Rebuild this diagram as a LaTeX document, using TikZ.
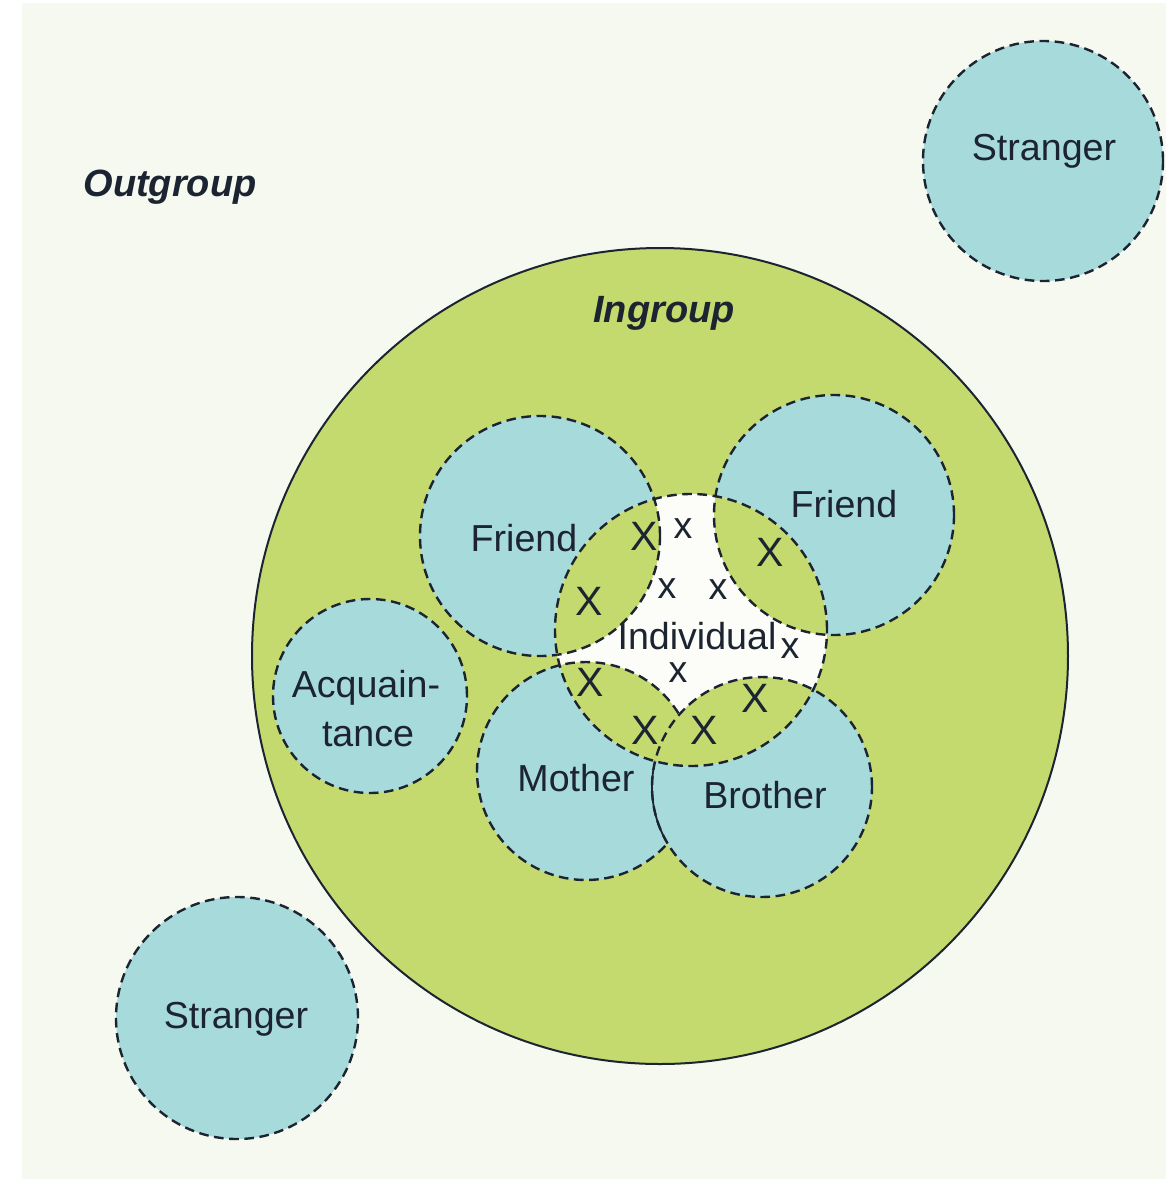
\documentclass[tikz,border=0pt]{standalone}
\usepackage{fontspec}
\setmainfont{Liberation Sans}
\definecolor{bgcream}{HTML}{F6F9F0}
\definecolor{ingreen}{HTML}{C4DA6E}
\definecolor{pblue}{HTML}{A7DADB}
\definecolor{indwhite}{HTML}{FCFDF8}
\definecolor{ink}{HTML}{1B2430}
\begin{document}
\begin{tikzpicture}[x=0.5pt,y=-0.5pt,
  dline/.style={draw=ink, line width=1.2pt, dash pattern=on 4.8pt off 2.8pt},
  person/.style={fill=pblue},
  lbl/.style={text=ink, font=\fontsize{18.8}{22}\selectfont, inner sep=0pt},
  grp/.style={text=ink, font=\fontsize{19}{22}\selectfont\bfseries\itshape, inner sep=0pt},
  bigx/.style={text=ink, font=\fontsize{20.5}{22}\selectfont, inner sep=0pt},
  smallx/.style={text=ink, font=\fontsize{18.8}{22}\selectfont, inner sep=0pt, text height=1ex, text depth=0pt}]
\useasboundingbox (0,0) rectangle (1166,1180);
\fill[white] (0,0) rectangle (1166,1180);
\fill[bgcream] (22,3) rectangle (1166,1179);

% centres
\coordinate (cIn) at (660,656);
\coordinate (cST) at (1043,161);
\coordinate (cSB) at (237,1018);
\coordinate (cAc) at (370,696);
\coordinate (cFL) at (540,536);
\coordinate (cFR) at (834,515);
\coordinate (cMo) at (586,771);
\coordinate (cBr) at (762,787);
\coordinate (cId) at (691,630);

% ingroup
\draw[fill=ingreen, draw=ink, line width=1pt] (cIn) circle[radius=204pt];

% strangers
\draw[person, dline] (cST) circle[radius=60pt];
\draw[person, dline] (cSB) circle[radius=60.5pt];

% ingroup members
\draw[person, dline] (cAc) circle[radius=48.5pt];
\draw[person, dline] (cFL) circle[radius=60pt];
\draw[person, dline] (cFR) circle[radius=60pt];
\draw[person, dline] (cMo) circle[radius=54.5pt];
\draw[person, dline] (cBr) circle[radius=55pt];
\begin{scope}
  \clip (cMo) circle[radius=54.5pt];
  \draw[draw=ink, line width=0.9pt] (cBr) circle[radius=55pt];
\end{scope}

% individual
\fill[indwhite] (cId) circle[radius=68pt];
\begin{scope}
  \clip (cId) circle[radius=68pt];
  \draw[fill=ingreen, dline] (cFL) circle[radius=60pt];
  \draw[fill=ingreen, dline] (cFR) circle[radius=60pt];
  \draw[fill=ingreen, dline] (cMo) circle[radius=54.5pt];
  \draw[fill=ingreen, dline] (cBr) circle[radius=55pt];
\end{scope}
\draw[dline] (cId) circle[radius=68pt];

% labels
\node[grp] (outgroup) at (170,187) {Outgroup};
\node[grp] (ingroup) at (664,313) {Ingroup};
\node[lbl] (strT) at (1044,151) {Stranger};
\node[lbl] (strB) at (236,1019) {Stranger};
\node[lbl] (friendL) at (524,538) {Friend};
\node[lbl] (friendR) at (844,504) {Friend};
\node[lbl] (acq1) at (366,688) {Acquain-};
\node[lbl] (acq2) at (368,735) {tance};
\node[lbl] (mother) at (576,778) {Mother};
\node[lbl] (brother) at (765,795) {Brother};
\node[lbl, text depth=0pt] (indiv) at (697,636) {Individual};

% marks
\node[bigx] (X1) at (644,536) {X};
\node[bigx] (X2) at (589,601) {X};
\node[bigx] (X3) at (770,552) {X};
\node[bigx] (X4) at (590,682) {X};
\node[bigx] (X5) at (645,730) {X};
\node[bigx] (X6) at (704,730) {X};
\node[bigx] (X7) at (755,698) {X};
\node[smallx] (x1) at (683,533) {x};
\node[smallx] (x2) at (667,593) {x};
\node[smallx] (x3) at (718,594) {x};
\node[smallx] (x4) at (790,653) {x};
\node[smallx] (x5) at (678,677) {x};
\end{tikzpicture}
\end{document}
